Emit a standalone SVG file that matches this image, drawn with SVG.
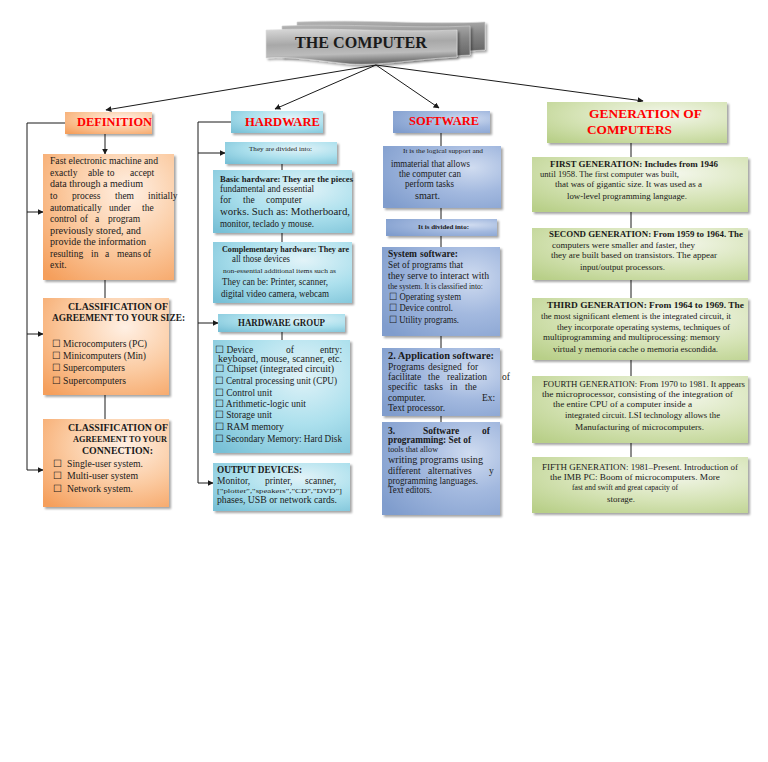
<svg xmlns="http://www.w3.org/2000/svg" width="768" height="762" viewBox="0 0 768 762">
<defs>
<style>
.t{font-family:"Liberation Serif","Times New Roman",serif;fill:#1a1a1a;font-size:9.5px}
.b{font-weight:bold}
.h{font-family:"Liberation Serif","Times New Roman",serif;font-weight:bold;fill:#ff0000}
.g{font-size:8.5px}
.ln{stroke:#1a1a1a;stroke-width:1;fill:none}
.ar{stroke:#1a1a1a;stroke-width:1;fill:none;marker-end:url(#ah)}
</style>
<marker id="ah" viewBox="0 0 10 10" refX="9" refY="5" markerWidth="6" markerHeight="6" orient="auto" markerUnits="userSpaceOnUse"><path d="M0,0 L10,5 L0,10 Z" fill="#1a1a1a"/></marker>
<filter id="sh" x="-10%" y="-10%" width="125%" height="130%"><feDropShadow dx="2" dy="2" stdDeviation="1.2" flood-color="#000" flood-opacity="0.35"/></filter>
<radialGradient id="gO" cx="0.65" cy="0.3" r="0.9"><stop offset="0" stop-color="#fff0e4"/><stop offset="0.5" stop-color="#fbcba2"/><stop offset="1" stop-color="#f59f5c"/></radialGradient>
<radialGradient id="gB" cx="0.65" cy="0.3" r="0.9"><stop offset="0" stop-color="#e2f3f8"/><stop offset="0.5" stop-color="#ace0ed"/><stop offset="1" stop-color="#78c0d6"/></radialGradient>
<radialGradient id="gS" cx="0.75" cy="0.35" r="0.9"><stop offset="0" stop-color="#d0dcf0"/><stop offset="0.45" stop-color="#a3b9df"/><stop offset="1" stop-color="#809dcd"/></radialGradient>
<radialGradient id="gG" cx="0.65" cy="0.3" r="0.9"><stop offset="0" stop-color="#f4f7ec"/><stop offset="0.55" stop-color="#d5e3b5"/><stop offset="1" stop-color="#b8cf88"/></radialGradient>
<linearGradient id="gT" x1="0" y1="0" x2="0.15" y2="1"><stop offset="0" stop-color="#d8d8d8"/><stop offset="0.45" stop-color="#a8a8a8"/><stop offset="0.75" stop-color="#bcbcbc"/><stop offset="1" stop-color="#707070"/></linearGradient>
<linearGradient id="gT2" x1="0" y1="0" x2="0.15" y2="1"><stop offset="0" stop-color="#b5b5b5"/><stop offset="0.5" stop-color="#858585"/><stop offset="1" stop-color="#656565"/></linearGradient>
</defs>

<g id="title">
<path d="M297,22 C360,19 430,25 485,22 L485,50 C430,53 410,58 380,56 C350,53 320,50 297,52 Z" fill="url(#gT2)" stroke="#d0d0d0" stroke-width="0.6" filter="url(#sh)"/>
<path d="M282,26 C345,23 415,29 470,26 L470,55 C415,58 395,63 365,61 C335,58 305,55 282,57 Z" fill="url(#gT2)" stroke="#d0d0d0" stroke-width="0.6" filter="url(#sh)"/>
<path d="M266,30 C330,27 400,33 457,30 L457,57 C405,60 380,66 350,64 C320,61 290,56 266,58 Z" fill="url(#gT)" stroke="#e0e0e0" stroke-width="0.6" filter="url(#sh)"/>
<text x="295" y="48" class="t b" style="font-size:16px" textLength="132" lengthAdjust="spacingAndGlyphs">THE COMPUTER</text>
</g>

<g id="connectors">
<line class="ar" x1="376" y1="65" x2="106" y2="110"/>
<line class="ar" x1="376" y1="65" x2="275" y2="109"/>
<line class="ar" x1="376" y1="65" x2="439" y2="108"/>
<line class="ar" x1="376" y1="65" x2="643" y2="101"/>
<line class="ar" x1="105" y1="134" x2="105" y2="154"/>
<line class="ln" x1="105" y1="280" x2="105" y2="298"/>
<line class="ln" x1="105" y1="395" x2="105" y2="419"/>
<path class="ln" d="M65,123 H27 V470"/>
<line class="ar" x1="27" y1="212" x2="43" y2="212"/>
<line class="ar" x1="27" y1="334" x2="43" y2="334"/>
<line class="ar" x1="27" y1="470" x2="43" y2="470"/>
<path class="ln" d="M231,122 H198 V483"/>
<line class="ar" x1="198" y1="153" x2="225" y2="153"/>
<line class="ar" x1="198" y1="323" x2="218" y2="323"/>
<line class="ar" x1="198" y1="483" x2="213" y2="483"/>
<line class="ln" x1="282" y1="164" x2="282" y2="170"/>
<line class="ln" x1="282" y1="233" x2="282" y2="242"/>
<line class="ln" x1="282" y1="332" x2="282" y2="340"/>
<line class="ln" x1="441" y1="133" x2="441" y2="146"/>
<line class="ln" x1="441" y1="208" x2="441" y2="219"/>
<line class="ln" x1="441" y1="236" x2="441" y2="247"/>
<line class="ln" x1="441" y1="336" x2="441" y2="348"/>
<line class="ln" x1="441" y1="416" x2="441" y2="422"/>
<line class="ln" x1="631" y1="143" x2="631" y2="157"/>
<line class="ln" x1="631" y1="212" x2="631" y2="228"/>
<line class="ln" x1="631" y1="280" x2="631" y2="298"/>
<line class="ln" x1="631" y1="360" x2="631" y2="376"/>
<line class="ln" x1="631" y1="443" x2="631" y2="457"/>
</g>

<g id="definition">
<rect x="65" y="112" width="87" height="22" fill="url(#gO)" filter="url(#sh)"/>
<text x="77" y="126" class="h" style="font-size:12.5px" textLength="75" lengthAdjust="spacingAndGlyphs">DEFINITION</text>
</g>

<g id="definition-text">
<rect x="43" y="154" width="131" height="126" fill="url(#gO)" filter="url(#sh)"/>
<text class="t" x="50" y="164" textLength="108" lengthAdjust="spacingAndGlyphs">Fast electronic machine and</text>
<text class="t" y="176"><tspan x="50">exactly</tspan><tspan x="88">able</tspan><tspan x="107">to</tspan><tspan x="130">accept</tspan></text>
<text class="t" x="50" y="187" textLength="93" lengthAdjust="spacingAndGlyphs">data through a medium</text>
<text class="t" y="199"><tspan x="50">to</tspan><tspan x="72">process</tspan><tspan x="115">them</tspan><tspan x="148">initially</tspan></text>
<text class="t" y="211"><tspan x="50">automatically</tspan><tspan x="109">under</tspan><tspan x="142">the</tspan></text>
<text class="t" y="222"><tspan x="50">control</tspan><tspan x="80">of</tspan><tspan x="95">a</tspan><tspan x="108">program</tspan></text>
<text class="t" x="50" y="234" textLength="91" lengthAdjust="spacingAndGlyphs">previously stored, and</text>
<text class="t" x="50" y="245" textLength="96" lengthAdjust="spacingAndGlyphs">provide the information</text>
<text class="t" y="257"><tspan x="50">resulting</tspan><tspan x="91">in</tspan><tspan x="105">a</tspan><tspan x="117">means</tspan><tspan x="143">of</tspan></text>
<text class="t" x="50" y="268">exit.</text>
</g>

<g id="class-size">
<rect x="43" y="298" width="126" height="97" fill="url(#gO)" filter="url(#sh)"/>
<text class="t b" x="68" y="310" textLength="100" lengthAdjust="spacingAndGlyphs">CLASSIFICATION OF</text>
<text class="t b" x="52" y="321" textLength="133" lengthAdjust="spacingAndGlyphs">AGREEMENT TO YOUR SIZE:</text>
<text class="t" x="52" y="347" style="font-size:10px" textLength="95" lengthAdjust="spacingAndGlyphs">☐ Microcomputers (PC)</text>
<text class="t" x="52" y="359" style="font-size:10px" textLength="94" lengthAdjust="spacingAndGlyphs">☐ Minicomputers (Min)</text>
<text class="t" x="52" y="371" style="font-size:10px" textLength="73" lengthAdjust="spacingAndGlyphs">☐ Supercomputers</text>
<text class="t" x="52" y="384" style="font-size:10px" textLength="74" lengthAdjust="spacingAndGlyphs">☐ Supercomputers</text>
</g>

<g id="class-connection">
<rect x="43" y="419" width="126" height="88" fill="url(#gO)" filter="url(#sh)"/>
<text class="t b" x="68" y="431" textLength="100" lengthAdjust="spacingAndGlyphs">CLASSIFICATION OF</text>
<text class="t b" x="73" y="442" style="font-size:8.5px" textLength="94" lengthAdjust="spacingAndGlyphs">AGREEMENT TO YOUR</text>
<text class="t b" x="82" y="454" style="font-size:10px" textLength="71" lengthAdjust="spacingAndGlyphs">CONNECTION:</text>
<text class="t" x="53" y="467">☐</text><text class="t" x="67" y="467" textLength="76" lengthAdjust="spacingAndGlyphs">Single-user system.</text>
<text class="t" x="53" y="479">☐</text><text class="t" x="67" y="479" textLength="71" lengthAdjust="spacingAndGlyphs">Multi-user system</text>
<text class="t" x="53" y="492">☐</text><text class="t" x="67" y="492" textLength="66" lengthAdjust="spacingAndGlyphs">Network system.</text>
</g>

<g id="hardware">
<rect x="231" y="111" width="92" height="22" fill="url(#gB)" filter="url(#sh)"/>
<text x="245" y="126" class="h" style="font-size:12.5px" textLength="75" lengthAdjust="spacingAndGlyphs">HARDWARE</text>
</g>

<g id="hw-divided">
<rect x="225" y="142" width="112" height="22" fill="url(#gB)" filter="url(#sh)"/>
<text class="t" x="249" y="151" style="font-size:7px" textLength="63" lengthAdjust="spacingAndGlyphs">They are divided into:</text>
</g>

<g id="hw-basic">
<rect x="213" y="170" width="139" height="63" fill="url(#gB)" filter="url(#sh)"/>
<text class="t b" x="220" y="182" style="font-size:8.7px" textLength="133" lengthAdjust="spacingAndGlyphs">Basic hardware: They are the pieces</text>
<text class="t" x="220" y="192" textLength="94" lengthAdjust="spacingAndGlyphs">fundamental and essential</text>
<text class="t" y="203"><tspan x="220">for</tspan><tspan x="243">the</tspan><tspan x="266">computer</tspan></text>
<text class="t" x="220" y="215" textLength="130" lengthAdjust="spacingAndGlyphs">works. Such as: Motherboard,</text>
<text class="t" x="220" y="227" textLength="94" lengthAdjust="spacingAndGlyphs">monitor, teclado y mouse.</text>
</g>

<g id="hw-complementary">
<rect x="213" y="242" width="139" height="61" fill="url(#gB)" filter="url(#sh)"/>
<text class="t b" x="222" y="252" style="font-size:8.7px" textLength="127" lengthAdjust="spacingAndGlyphs">Complementary hardware: They are</text>
<text class="t" x="232" y="262" textLength="58" lengthAdjust="spacingAndGlyphs">all those devices</text>
<text class="t" x="223" y="273" style="font-size:6.5px" textLength="113" lengthAdjust="spacingAndGlyphs">non-essential additional items such as</text>
<text class="t" x="222" y="285" style="font-size:10px" textLength="106" lengthAdjust="spacingAndGlyphs">They can be: Printer, scanner,</text>
<text class="t" x="221" y="297" style="font-size:10px" textLength="108" lengthAdjust="spacingAndGlyphs">digital video camera, webcam</text>
</g>

<g id="hw-group">
<rect x="218" y="314" width="127" height="18" fill="url(#gB)" filter="url(#sh)"/>
<text class="t b" x="238" y="326" textLength="87" lengthAdjust="spacingAndGlyphs">HARDWARE GROUP</text>
</g>

<g id="hw-list">
<rect x="213" y="340" width="137" height="113" fill="url(#gB)" filter="url(#sh)"/>
<text class="t" y="353"><tspan x="215">☐ Device</tspan><tspan x="286">of</tspan><tspan x="320">entry:</tspan></text>
<text class="t" x="218" y="362" textLength="124" lengthAdjust="spacingAndGlyphs">keyboard, mouse, scanner, etc.</text>
<text class="t" x="215" y="372" textLength="119" lengthAdjust="spacingAndGlyphs">☐ Chipset (integrated circuit)</text>
<text class="t" x="215" y="384" textLength="122" lengthAdjust="spacingAndGlyphs">☐ Central processing unit (CPU)</text>
<text class="t" x="215" y="396" textLength="57" lengthAdjust="spacingAndGlyphs">☐ Control unit</text>
<text class="t" x="215" y="407" textLength="91" lengthAdjust="spacingAndGlyphs">☐ Arithmetic-logic unit</text>
<text class="t" x="215" y="418" textLength="57" lengthAdjust="spacingAndGlyphs">☐ Storage unit</text>
<text class="t" x="215" y="430" textLength="69" lengthAdjust="spacingAndGlyphs">☐ RAM memory</text>
<text class="t" x="215" y="442" textLength="127" lengthAdjust="spacingAndGlyphs">☐ Secondary Memory: Hard Disk</text>
</g>

<g id="hw-output">
<rect x="213" y="463" width="137" height="48" fill="url(#gB)" filter="url(#sh)"/>
<text class="t b" x="217" y="473" textLength="85" lengthAdjust="spacingAndGlyphs">OUTPUT DEVICES:</text>
<text class="t" y="484"><tspan x="217">Monitor,</tspan><tspan x="265">printer,</tspan><tspan x="305">scanner,</tspan></text>
<text class="t" x="217" y="493" style="font-size:7px" textLength="125" lengthAdjust="spacingAndGlyphs">["plotter","speakers","CD","DVD"]</text>
<text class="t" x="217" y="503" textLength="120" lengthAdjust="spacingAndGlyphs">phases, USB or network cards.</text>
</g>

<g id="software">
<rect x="393" y="111" width="97" height="22" fill="url(#gS)" filter="url(#sh)"/>
<text x="409" y="125" class="h" style="font-size:12.5px" textLength="70" lengthAdjust="spacingAndGlyphs">SOFTWARE</text>
</g>

<g id="sw-definition">
<rect x="383" y="146" width="118" height="62" fill="url(#gS)" filter="url(#sh)"/>
<text class="t" x="403" y="153" style="font-size:7px" textLength="80" lengthAdjust="spacingAndGlyphs">It is the logical support and</text>
<text class="t" x="391" y="167" textLength="79" lengthAdjust="spacingAndGlyphs">immaterial that allows</text>
<text class="t" x="399" y="177" textLength="62" lengthAdjust="spacingAndGlyphs">the computer can</text>
<text class="t" x="405" y="187" textLength="49" lengthAdjust="spacingAndGlyphs">perform tasks</text>
<text class="t" x="415" y="199" textLength="25" lengthAdjust="spacingAndGlyphs">smart.</text>
</g>

<g id="sw-divided">
<rect x="386" y="219" width="111" height="17" fill="url(#gS)" filter="url(#sh)"/>
<text class="t b" x="418" y="229" style="font-size:6.5px" textLength="51" lengthAdjust="spacingAndGlyphs">It is divided into:</text>
</g>

<g id="sw-system">
<rect x="382" y="247" width="118" height="89" fill="url(#gS)" filter="url(#sh)"/>
<text class="t b" y="257"><tspan x="388">System</tspan><tspan x="420">software:</tspan></text>
<text class="t" x="388" y="268" textLength="75" lengthAdjust="spacingAndGlyphs">Set of programs that</text>
<text class="t" x="388" y="279" textLength="101" lengthAdjust="spacingAndGlyphs">they serve to interact with</text>
<text class="t" x="388" y="289" style="font-size:7.5px" textLength="95" lengthAdjust="spacingAndGlyphs">the system. It is classified into:</text>
<text class="t" x="389" y="300" textLength="72" lengthAdjust="spacingAndGlyphs">☐ Operating system</text>
<text class="t" x="389" y="311" textLength="64" lengthAdjust="spacingAndGlyphs">☐ Device control.</text>
<text class="t" x="389" y="323" textLength="70" lengthAdjust="spacingAndGlyphs">☐ Utility programs.</text>
</g>

<g id="sw-application">
<rect x="382" y="348" width="118" height="68" fill="url(#gS)" filter="url(#sh)"/>
<text class="t b" x="388" y="359" textLength="106" lengthAdjust="spacingAndGlyphs">2. Application software:</text>
<text class="t" y="370"><tspan x="388">Programs</tspan><tspan x="428">designed</tspan><tspan x="467">for</tspan></text>
<text class="t" y="380"><tspan x="388">facilitate</tspan><tspan x="428">the</tspan><tspan x="447">realization</tspan><tspan x="502">of</tspan></text>
<text class="t" y="390"><tspan x="388">specific</tspan><tspan x="424">tasks</tspan><tspan x="450">in</tspan><tspan x="465">the</tspan></text>
<text class="t" y="401"><tspan x="388">computer.</tspan><tspan x="482">Ex:</tspan></text>
<text class="t" x="388" y="411" textLength="57" lengthAdjust="spacingAndGlyphs">Text processor.</text>
</g>

<g id="sw-programming">
<rect x="382" y="422" width="118" height="93" fill="url(#gS)" filter="url(#sh)"/>
<text class="t b" y="434"><tspan x="388">3.</tspan><tspan x="423">Software</tspan><tspan x="482">of</tspan></text>
<text class="t b" x="388" y="443" textLength="83" lengthAdjust="spacingAndGlyphs">programming: Set of</text>
<text class="t" x="388" y="452" style="font-size:8.5px" textLength="50" lengthAdjust="spacingAndGlyphs">tools that allow</text>
<text class="t" x="388" y="463" textLength="95" lengthAdjust="spacingAndGlyphs">writing programs using</text>
<text class="t" y="474"><tspan x="388">different</tspan><tspan x="428">alternatives</tspan><tspan x="489">y</tspan></text>
<text class="t" x="388" y="484" textLength="90" lengthAdjust="spacingAndGlyphs">programming languages.</text>
<text class="t" x="388" y="493" textLength="44" lengthAdjust="spacingAndGlyphs">Text editors.</text>
</g>

<g id="generation">
<rect x="547" y="102" width="180" height="41" fill="url(#gG)" filter="url(#sh)"/>
<text x="589" y="118" class="h" style="font-size:13.5px" textLength="113" lengthAdjust="spacingAndGlyphs">GENERATION OF</text>
<text x="587" y="134" class="h" style="font-size:13.5px" textLength="85" lengthAdjust="spacingAndGlyphs">COMPUTERS</text>
</g>

<g id="gen-first">
<rect x="532" y="157" width="216" height="55" fill="url(#gG)" filter="url(#sh)"/>
<text class="t g b" x="550" y="167" textLength="168" lengthAdjust="spacingAndGlyphs">FIRST GENERATION: Includes from 1946</text>
<text class="t g" x="540" y="177" textLength="139" lengthAdjust="spacingAndGlyphs">until 1958. The first computer was built,</text>
<text class="t g" x="555" y="187" textLength="147" lengthAdjust="spacingAndGlyphs">that was of gigantic size. It was used as a</text>
<text class="t g" x="567" y="199" textLength="120" lengthAdjust="spacingAndGlyphs">low-level programming language.</text>
</g>

<g id="gen-second">
<rect x="532" y="228" width="216" height="52" fill="url(#gG)" filter="url(#sh)"/>
<text class="t g b" x="549" y="237" textLength="194" lengthAdjust="spacingAndGlyphs">SECOND GENERATION: From 1959 to 1964. The</text>
<text class="t g" x="552" y="248" textLength="143" lengthAdjust="spacingAndGlyphs">computers were smaller and faster, they</text>
<text class="t g" x="551" y="258" textLength="166" lengthAdjust="spacingAndGlyphs">they are built based on transistors. The appear</text>
<text class="t g" x="580" y="270" textLength="85" lengthAdjust="spacingAndGlyphs">input/output processors.</text>
</g>

<g id="gen-third">
<rect x="532" y="298" width="216" height="62" fill="url(#gG)" filter="url(#sh)"/>
<text class="t g b" x="547" y="308" textLength="197" lengthAdjust="spacingAndGlyphs">THIRD GENERATION: From 1964 to 1969. The</text>
<text class="t g" x="541" y="319" textLength="190" lengthAdjust="spacingAndGlyphs">the most significant element is the integrated circuit, it</text>
<text class="t g" x="557" y="330" textLength="173" lengthAdjust="spacingAndGlyphs">they incorporate operating systems, techniques of</text>
<text class="t g" x="543" y="340" textLength="177" lengthAdjust="spacingAndGlyphs">multiprogramming and multiprocessing: memory</text>
<text class="t g" x="553" y="352" textLength="165" lengthAdjust="spacingAndGlyphs">virtual y memoria cache o memoria escondida.</text>
</g>

<g id="gen-fourth">
<rect x="532" y="376" width="216" height="67" fill="url(#gG)" filter="url(#sh)"/>
<text class="t g" x="543" y="387" textLength="202" lengthAdjust="spacingAndGlyphs">FOURTH GENERATION: From 1970 to 1981. It appears</text>
<text class="t g" x="542" y="397" textLength="191" lengthAdjust="spacingAndGlyphs">the microprocessor, consisting of the integration of</text>
<text class="t g" x="553" y="407" textLength="139" lengthAdjust="spacingAndGlyphs">the entire CPU of a computer inside a</text>
<text class="t g" x="565" y="418" textLength="155" lengthAdjust="spacingAndGlyphs">integrated circuit. LSI technology allows the</text>
<text class="t g" x="575" y="430" textLength="129" lengthAdjust="spacingAndGlyphs">Manufacturing of microcomputers.</text>
</g>

<g id="gen-fifth">
<rect x="532" y="457" width="216" height="56" fill="url(#gG)" filter="url(#sh)"/>
<text class="t g" x="542" y="470" textLength="196" lengthAdjust="spacingAndGlyphs">FIFTH GENERATION: 1981–Present. Introduction of</text>
<text class="t g" x="550" y="480" textLength="170" lengthAdjust="spacingAndGlyphs">the IMB PC: Boom of microcomputers. More</text>
<text class="t g" x="572" y="490" textLength="106" lengthAdjust="spacingAndGlyphs">fast and swift and great capacity of</text>
<text class="t g" x="607" y="502" textLength="28" lengthAdjust="spacingAndGlyphs">storage.</text>
</g>
</svg>
